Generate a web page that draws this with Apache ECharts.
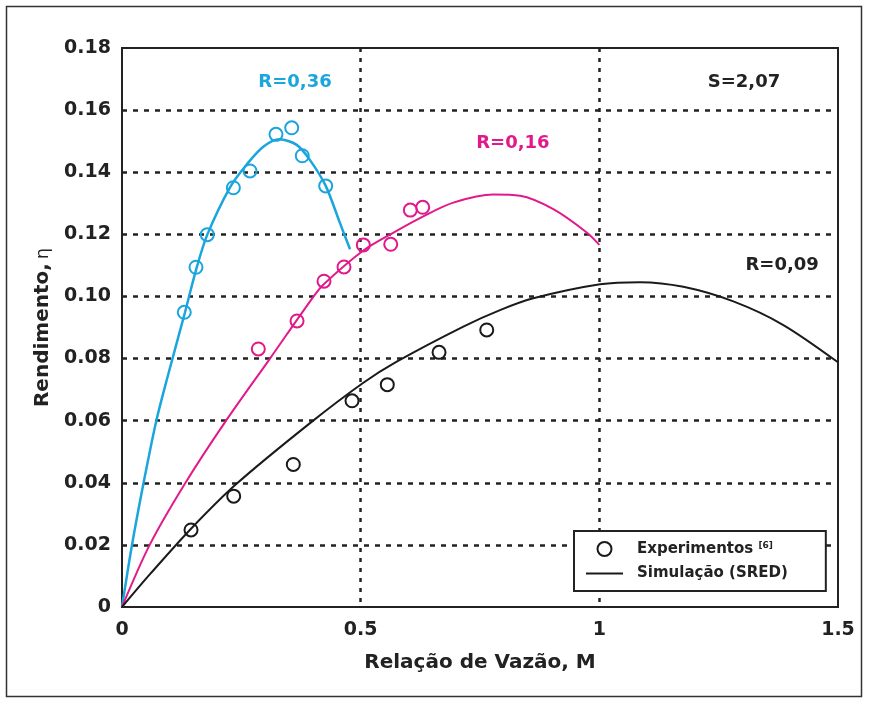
<!DOCTYPE html>
<html>
<head>
<meta charset="utf-8">
<script src="https://cdn.jsdelivr.net/npm/echarts@6/dist/echarts.min.js"></script>
<style>
  html, body { margin: 0; padding: 0; background: #fff; }
  #chart { width: 869px; height: 704px; }
</style>
</head>
<body>
<div id="chart"></div>
<script>
// ---------- data ----------
const xTickLabels = ['0', '0.5', '1', '1.5'];
const yTickLabels = ['0', '0.02', '0.04', '0.06', '0.08', '0.10', '0.12', '0.14', '0.16', '0.18'];

// R = 0,36 (cyan)
const expR036 = [[0.1305,0.0949],[0.155,0.1094],[0.1787,0.1199],[0.2333,0.1350],[0.2682,0.1404],[0.3226,0.1522],[0.3555,0.1543],[0.3777,0.1453],[0.4267,0.1356]];
const simR036 = [[0,0],[0.0203,0.0194],[0.0446,0.0395],[0.0712,0.0595],[0.0937,0.0731],[0.132,0.0949],[0.155,0.1085],[0.1787,0.1199],[0.2269,0.1353],[0.2613,0.1425],[0.296,0.1482],[0.3296,0.1506],[0.366,0.1488],[0.3939,0.1439],[0.4268,0.1356],[0.4567,0.1236],[0.4777,0.1152]];

// R = 0,16 (magenta)
const expR016 = [[0.2856,0.0831],[0.3667,0.0921],[0.4232,0.1049],[0.4651,0.1095],[0.5056,0.1166],[0.563,0.1168],[0.604,0.1278],[0.63,0.1287]];
const simR016 = [[0,0],[0.058,0.020],[0.133,0.040],[0.218,0.060],[0.31,0.080],[0.40,0.0997],[0.4232,0.1040],[0.5056,0.1148],[0.568,0.1205],[0.6313,0.1258],[0.6941,0.1302],[0.7779,0.1328],[0.8339,0.1324],[0.9036,0.1281],[0.9736,0.1206],[1.0,0.1166]];

// R = 0,09 (black)
const expR009 = [[0.1446,0.0248],[0.234,0.0357],[0.3589,0.0459],[0.4819,0.0664],[0.5558,0.0716],[0.6642,0.0820],[0.7641,0.0892]];
const simR009 = [[0,0],[0.06,0.0108],[0.1446,0.0252],[0.2388,0.0395],[0.3939,0.0592],[0.5056,0.0722],[0.5755,0.079],[0.7151,0.0903],[0.7919,0.0956],[0.8617,0.0994],[1.0015,0.1039],[1.0853,0.1046],[1.176,0.1031],[1.2808,0.0984],[1.3855,0.0908],[1.5,0.0788]];

// annotations
const annoText = ['R=0,36', 'S=2,07', 'R=0,16', 'R=0,09'];
const annoPos = [[0.3625,0.169],[1.303,0.169],[0.819,0.1494],[1.383,0.1101]];
const annoColor = ['#1ba5dd', '#222222', '#e2198a', '#222222'];

// ---------- chart ----------
const CYAN = '#1ba5dd', MAG = '#e2198a', BLK = '#1a1a1a';
const FONT = 'DejaVu Sans';

const chart = echarts.init(document.getElementById('chart'), null, { renderer: 'canvas' });

function expSeries(name, data, color) {
  return {
    name: name, type: 'scatter', data: data, z: 5,
    symbol: 'circle', symbolSize: 13,
    itemStyle: { color: 'rgba(255,255,255,0)', borderColor: color, borderWidth: 2, opacity: 1 },
    emphasis: { disabled: true }
  };
}
function simSeries(name, data, color, width) {
  return {
    name: name, type: 'line', data: data, z: 4,
    smooth: 0.3, symbol: 'none',
    lineStyle: { color: color, width: width },
    itemStyle: { color: color },
    emphasis: { disabled: true }
  };
}

const option = {
  animation: false,
  backgroundColor: '#fff',
  textStyle: { fontFamily: FONT },
  grid: {
    left: 122, right: 31, top: 48, bottom: 97,
    show: true, borderColor: '#222', borderWidth: 2, backgroundColor: 'transparent'
  },
  xAxis: {
    type: 'value', min: 0, max: 1.5, interval: 0.5,
    name: 'Relação de Vazão, M', nameLocation: 'middle', nameGap: 46,
    nameTextStyle: { fontFamily: FONT, fontWeight: 'bold', fontSize: 20, color: '#222' },
    axisLine: { show: false },
    axisTick: { show: false },
    axisLabel: {
      margin: 14, fontFamily: FONT, fontWeight: 'bold', fontSize: 19, color: '#222',
      formatter: function (v) { return xTickLabels[Math.round(v / 0.5)]; }
    },
    splitLine: {
      show: true, showMinLine: false, showMaxLine: false,
      lineStyle: { color: '#222', width: 2.5, type: [4, 6] }
    }
  },
  yAxis: {
    type: 'value', min: 0, max: 0.18, interval: 0.02,
    name: '{b|Rendimento,} {n|η}', nameLocation: 'middle', nameGap: 62,
    nameTextStyle: {
      color: '#222',
      rich: {
        b: { fontFamily: FONT, fontWeight: 'bold', fontSize: 20, color: '#222' },
        n: { fontFamily: FONT, fontWeight: 'normal', fontSize: 18, color: '#222' }
      }
    },
    axisLine: { show: false },
    axisTick: { show: false },
    axisLabel: {
      margin: 11, fontFamily: FONT, fontWeight: 'bold', fontSize: 19, color: '#222',
      formatter: function (v) { return yTickLabels[Math.round(v / 0.02)]; }
    },
    splitLine: {
      show: true, showMinLine: false, showMaxLine: false,
      lineStyle: { color: '#222', width: 2.5, type: [5, 6] }
    }
  },
  legend: {
    orient: 'vertical', left: 574, top: 531,
    padding: [10, 38, 10, 11], itemGap: 9,
    itemWidth: 37, itemHeight: 14,
    borderColor: '#222', borderWidth: 2, backgroundColor: '#fff',
    selectedMode: false,
    data: [
      { name: 'Experimentos' },
      { name: 'Simulação (SRED)', itemStyle: { color: 'rgba(0,0,0,0)', borderWidth: 0, borderColor: 'rgba(0,0,0,0)' } }
    ],
    textStyle: {
      fontFamily: FONT, fontWeight: 'bold', fontSize: 15, color: '#222', padding: [0, 0, 0, 9],
      rich: {
        t: { fontFamily: FONT, fontWeight: 'bold', fontSize: 15, color: '#222' },
        s: { fontFamily: FONT, fontWeight: 'bold', fontSize: 9, color: '#222', verticalAlign: 'top', padding: [0, 0, 6, 0] }
      }
    },
    formatter: function (name) {
      return name === 'Experimentos' ? '{t|Experimentos} {s|[6]}' : '{t|' + name + '}';
    }
  },
  graphic: [{
    type: 'rect', silent: true, z: -10,
    shape: { x: 6.5, y: 6.5, width: 855, height: 690 },
    style: { fill: 'none', stroke: '#333', lineWidth: 1.5 }
  }],
  series: [
    simSeries('sim036', simR036, CYAN, 2.5),
    simSeries('sim016', simR016, MAG, 2),
    simSeries('Simulação (SRED)', simR009, BLK, 2),
    expSeries('exp036', expR036, CYAN),
    expSeries('exp016', expR016, MAG),
    expSeries('Experimentos', expR009, BLK),
    {
      name: 'annotations', type: 'scatter', symbolSize: 1, silent: true, z: 6,
      itemStyle: { color: 'rgba(0,0,0,0)', opacity: 1 },
      data: annoText.map(function (t, i) {
        return { name: t, value: annoPos[i], label: { color: annoColor[i] } };
      }),
      label: {
        show: true, position: 'inside', formatter: '{b}',
        fontFamily: FONT, fontWeight: 'bold', fontSize: 18
      }
    }
  ]
};
chart.setOption(option);
</script>
</body>
</html>
